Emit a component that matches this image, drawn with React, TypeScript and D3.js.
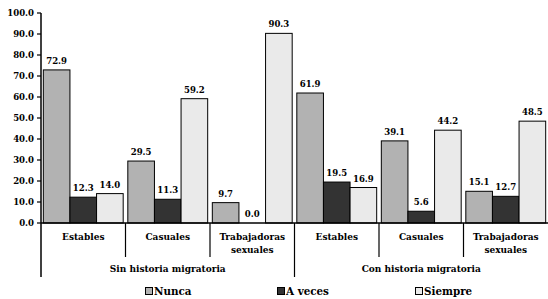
import React from "react";
import * as d3 from "d3";

const groups = ["Sin historia migratoria", "Con historia migratoria"];
const categories = ["Estables", "Casuales", "Trabajadoras sexuales"];
const seriesNames = ["Nunca", "A veces", "Siempre"];
const nunca = [72.9, 29.5, 9.7, 61.9, 39.1, 15.1];
const aVeces = [12.3, 11.3, 0.0, 19.5, 5.6, 12.7];
const siempre = [14.0, 59.2, 90.3, 16.9, 44.2, 48.5];
const yTicks = [0, 10, 20, 30, 40, 50, 60, 70, 80, 90, 100];
const colors = ["#b2b2b2", "#333333", "#eaeaea"];

const W = 548, H = 299;
const x0 = 41, x1 = 548;
const yTop = 13, yBot = 223;

export default function App() {
  const series = [nunca, aVeces, siempre];
  const cats: string[] = [];
  groups.forEach((g, gi) => categories.forEach((c, ci) => cats.push(gi + "|" + c)));
  const x = d3.scaleBand().domain(cats).range([x0, x1]).paddingInner(0).paddingOuter(0);
  const inner = d3.scaleBand().domain(seriesNames).range([0, x.bandwidth()]).paddingInner(0).paddingOuter(0.087);
  const y = d3.scaleLinear().domain([0, 100]).range([yBot, yTop]);
  const bw = x.bandwidth();
  const legendX = [145, 277, 415];

  return (
    <svg width={W} height={H} style={{ position: "absolute", left: 0, top: 0, fontFamily: "'DejaVu Serif Condensed', 'DejaVu Serif', serif", fontStretch: "condensed", fontWeight: "bold" }}>
      {/* y axis */}
      <line x1={x0} x2={x0} y1={yTop} y2={277} stroke="#000" strokeWidth={1.5} />
      {yTicks.map((t) => (
        <g key={t}>
          <line x1={x0 - 4} x2={x0} y1={y(t)} y2={y(t)} stroke="#000" strokeWidth={1.2} />
          <text x={x0 - 7} y={y(t)} dy="0.35em" textAnchor="end" fontSize={9.5}>{t.toFixed(1)}</text>
        </g>
      ))}
      {/* bars */}
      {cats.map((c, i) => (
        <g key={c}>
          {series.map((s, si) => {
            const bx = (x(c) as number) + (inner(seriesNames[si]) as number);
            const v = s[i];
            return (
              <g key={si}>
                <rect x={bx} y={y(v)} width={inner.bandwidth()} height={yBot - y(v)} fill={colors[si]} stroke="#000" strokeWidth={1} />
                <text x={bx + inner.bandwidth() / 2} y={y(v) - 6} textAnchor="middle" fontSize={9.5}>{v.toFixed(1)}</text>
              </g>
            );
          })}
        </g>
      ))}
      {/* x axis */}
      <line x1={x0} x2={x1} y1={yBot} y2={yBot} stroke="#000" strokeWidth={1.5} />
      {cats.map((c, i) => {
        const xe = (x(c) as number) + bw;
        const isGroupEnd = (i + 1) % categories.length === 0;
        const name = c.split("|")[1];
        const words = name.split(" ");
        return (
          <g key={"l" + c}>
            {i < cats.length - 1 && (
              <line x1={xe} x2={xe} y1={yBot} y2={isGroupEnd ? 277 : 257} stroke="#000" strokeWidth={1.2} />
            )}
            {words.map((w, wi) => (
              <text key={wi} x={(x(c) as number) + bw / 2} y={240 + wi * 13} textAnchor="middle" fontSize={10}>{w}</text>
            ))}
          </g>
        );
      })}
      {groups.map((g, gi) => {
        const xs = x(gi + "|" + categories[0]) as number;
        return (
          <text key={g} x={xs + (bw * categories.length) / 2} y={272} textAnchor="middle" fontSize={10}>{g}</text>
        );
      })}
      {/* legend */}
      {seriesNames.map((n, i) => (
        <g key={n}>
          <rect x={legendX[i] + 0.5} y={287.5} width={7} height={7} fill={colors[i]} stroke="#000" strokeWidth={1} />
          <text x={legendX[i] + 9} y={295} fontSize={11.5}>{n}</text>
        </g>
      ))}
    </svg>
  );
}
